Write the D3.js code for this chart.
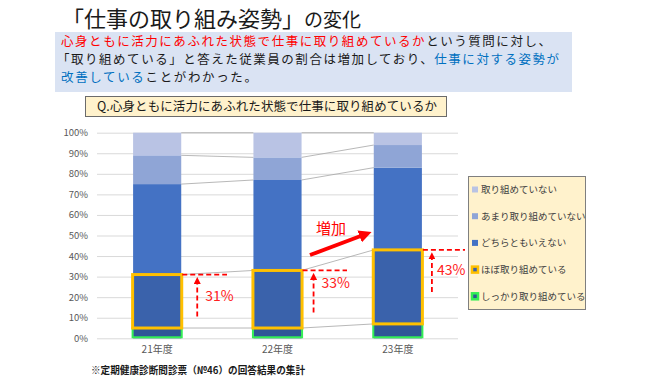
<!DOCTYPE html>
<html>
<head>
<meta charset="utf-8">
<script src="https://cdn.jsdelivr.net/npm/d3@7"></script>
<style>
  body { margin: 0; background: #fff; }
  svg text { font-family: "Noto Sans CJK JP", "Noto Sans", sans-serif; }
</style>
</head>
<body>
<svg id="chart" width="650" height="381"></svg>
<script>
// data
const categories = ["21年度", "22年度", "23年度"];
const seriesNames = ["しっかり取り組めている", "ほぼ取り組めている", "どちらともいえない", "あまり取り組めていない", "取り組めていない"];
const shikkari = [5, 5, 7];
const hobo = [26, 28, 36];
const dochira = [44, 44, 40];
const amari = [14, 11, 11];
const notAtAll = [11, 12, 6];
const yTicks = [0, 10, 20, 30, 40, 50, 60, 70, 80, 90, 100];

const colors = ["#2f5597", "#3a62ab", "#4472c4", "#8fa5d6", "#b9c3e4"];

const svg = d3.select("#chart");

// titre
const title = svg.append("text").attr("x", 62).attr("y", 27).attr("fill", "#1a1a1a");
title.append("tspan").style("font-size", "22px").text("「仕事の取り組み姿勢」");
title.append("tspan").style("font-size", "19px").text("の変化");

// encadre bleu
svg.append("rect").attr("x", 55).attr("y", 32).attr("width", 517).attr("height", 60).attr("fill", "#dae3f3");

const lines = [
    [["心身ともに活力にあふれた状態で仕事に取り組めているか", "#ff0000"], ["という質問に対し、", "#1a1a1a"]],
    [["「取り組めている」と答えた従業員の割合は増加しており、", "#1a1a1a"], ["仕事に対する姿勢が", "#0070c0"]],
    [["改善している", "#0070c0"], ["ことがわかった。", "#1a1a1a"]]
];
const lineWidths = [490, 502, 196];
lines.forEach((parts, i) => {
    const t = svg.append("text").attr("x", i === 1 ? 57 : 61).attr("y", 45.5 + i * 18.2)
        .style("font-size", "12.5px")
        .attr("textLength", lineWidths[i]).attr("lengthAdjust", "spacing");
    parts.forEach(p => t.append("tspan").attr("fill", p[1]).text(p[0]));
});

// question
svg.append("rect").attr("x", 85.5).attr("y", 96.5).attr("width", 361).attr("height", 20)
    .attr("fill", "#fff2cc").attr("stroke", "#6b6b6b");
svg.append("text").attr("x", 97).attr("y", 111).style("font-size", "12.5px").attr("fill", "#1a1a1a")
    .attr("textLength", 340).attr("lengthAdjust", "spacing")
    .text("Q.心身ともに活力にあふれた状態で仕事に取り組めているか");

// scales
const x = d3.scaleBand().domain(categories).range([97, 458]).paddingInner(0.6).paddingOuter(0.3);
const y = d3.scaleLinear().domain([0, 100]).range([338.3, 132.7]);

const yAxis = svg.append("g").attr("transform", "translate(97,0)")
    .call(d3.axisLeft(y).tickValues(yTicks).tickFormat(d => d + "%").tickSize(-361));
yAxis.select(".domain").remove();
yAxis.selectAll(".tick line").attr("stroke", "#d9d9d9");
yAxis.selectAll(".tick text").attr("x", -9).attr("fill", "#595959").style("font-size", "9.5px");

const xAxis = svg.append("g").attr("transform", "translate(0,338.3)")
    .call(d3.axisBottom(x).tickSize(0));
xAxis.select(".domain").remove();
xAxis.selectAll(".tick text").attr("dy", "1.2em").attr("fill", "#595959").style("font-size", "10px");

// stack
const table = categories.map((c, i) => ({
    cat: c,
    [seriesNames[0]]: shikkari[i],
    [seriesNames[1]]: hobo[i],
    [seriesNames[2]]: dochira[i],
    [seriesNames[3]]: amari[i],
    [seriesNames[4]]: notAtAll[i]
}));
const stacked = d3.stack().keys(seriesNames)(table);

// lignes de serie
const connectors = svg.append("g").attr("stroke", "#a6a6a6").attr("stroke-width", 0.8);
stacked.forEach(layer => {
    for (let i = 0; i < categories.length - 1; i++) {
        connectors.append("line")
            .attr("x1", x(categories[i]) + x.bandwidth()).attr("y1", y(layer[i][1]))
            .attr("x2", x(categories[i + 1])).attr("y2", y(layer[i + 1][1]));
    }
});

svg.append("g").selectAll("g").data(stacked).join("g")
    .attr("fill", (d, i) => colors[i])
    .selectAll("rect").data(d => d).join("rect")
    .attr("x", d => x(d.data.cat))
    .attr("y", d => y(d[1]))
    .attr("width", x.bandwidth())
    .attr("height", d => y(d[0]) - y(d[1]));

// cadres vert et jaune
svg.append("g").selectAll("rect").data(stacked[0]).join("rect")
    .attr("x", d => x(d.data.cat) - 0.5).attr("y", d => y(d[1]))
    .attr("width", x.bandwidth() + 1).attr("height", d => y(d[0]) - y(d[1]) - 1)
    .attr("fill", "none").attr("stroke", "#33ee55").attr("stroke-width", 2);
svg.append("g").selectAll("rect").data(stacked[1]).join("rect")
    .attr("x", d => x(d.data.cat) - 0.5).attr("y", d => y(d[1]))
    .attr("width", x.bandwidth() + 1).attr("height", d => y(d[0]) - y(d[1]))
    .attr("fill", "none").attr("stroke", "#ffc000").attr("stroke-width", 3);

// annotations rouges
const defs = svg.append("defs");
defs.append("marker").attr("id", "headSmall").attr("viewBox", "0 0 10 10")
    .attr("refX", 5).attr("refY", 5).attr("markerWidth", 4).attr("markerHeight", 4)
    .attr("orient", "auto").append("path").attr("d", "M0,0L10,5L0,10z").attr("fill", "#ff0000");
defs.append("marker").attr("id", "headBig").attr("viewBox", "0 0 10 10")
    .attr("refX", 2).attr("refY", 5).attr("markerWidth", 3.2).attr("markerHeight", 3.2)
    .attr("orient", "auto").append("path").attr("d", "M0,0L10,5L0,10z").attr("fill", "#ff0000");

const lineEnd = [227, 347, 465];
const arrowDx = [16, 12, 10];
const labelDx = [8, 8, 5];
const labelDy = [22, 13, 20];
const ann = svg.append("g");
stacked[1].forEach((d, i) => {
    const right = x(d.data.cat) + x.bandwidth();
    const yv = y(d[1]);
    const ax = right + arrowDx[i];
    ann.append("line").attr("x1", right + 1).attr("x2", lineEnd[i]).attr("y1", yv).attr("y2", yv)
        .attr("stroke", "#ff0000").attr("stroke-width", 1.8).attr("stroke-dasharray", "5,3");
    ann.append("line").attr("x1", ax).attr("x2", ax).attr("y1", yv + 42).attr("y2", yv + 6)
        .attr("stroke", "#ff0000").attr("stroke-width", 1.8).attr("stroke-dasharray", "5,3")
        .attr("marker-end", "url(#headSmall)");
    ann.append("text").attr("x", ax + labelDx[i]).attr("y", yv + labelDy[i]).attr("dy", "0.35em")
        .attr("fill", "#ff2020").style("font-size", "14px").text(d[1] + "%");
});

ann.append("line").attr("x1", 310).attr("y1", 255).attr("x2", 362).attr("y2", 235.5)
    .attr("stroke", "#ff0000").attr("stroke-width", 4).attr("marker-end", "url(#headBig)");
ann.append("text").attr("x", 316).attr("y", 234).attr("fill", "#ff0000").style("font-size", "15px").text("増加");

// legende
const legend = svg.append("g");
legend.append("rect").attr("x", 468.5).attr("y", 176.5).attr("width", 117).attr("height", 133)
    .attr("fill", "#fff2cc").attr("stroke", "#7f7f7f");
const legendOrder = [4, 3, 2, 1, 0];
legendOrder.forEach((k, j) => {
    const ly = 189.5 + j * 26.7;
    if (k > 1) {
        legend.append("rect").attr("x", 472).attr("y", ly - 3).attr("width", 6).attr("height", 6).attr("fill", colors[k]);
    } else {
        legend.append("rect").attr("x", 472).attr("y", ly - 3).attr("width", 6).attr("height", 6)
            .attr("fill", colors[k]).attr("stroke", k === 1 ? "#ffc000" : "#33ee55").attr("stroke-width", 2.5);
    }
    legend.append("text").attr("x", 481).attr("y", ly).attr("dy", "0.35em")
        .attr("fill", "#404040").style("font-size", "9.5px").text(seriesNames[k]);
});

// note
svg.append("text").attr("x", 91).attr("y", 374).attr("fill", "#1a1a1a").style("font-size", "10px")
    .style("font-weight", "bold").attr("textLength", 214).attr("lengthAdjust", "spacingAndGlyphs")
    .text("※定期健康診断問診票（№46）の回答結果の集計");
</script>
</body>
</html>
